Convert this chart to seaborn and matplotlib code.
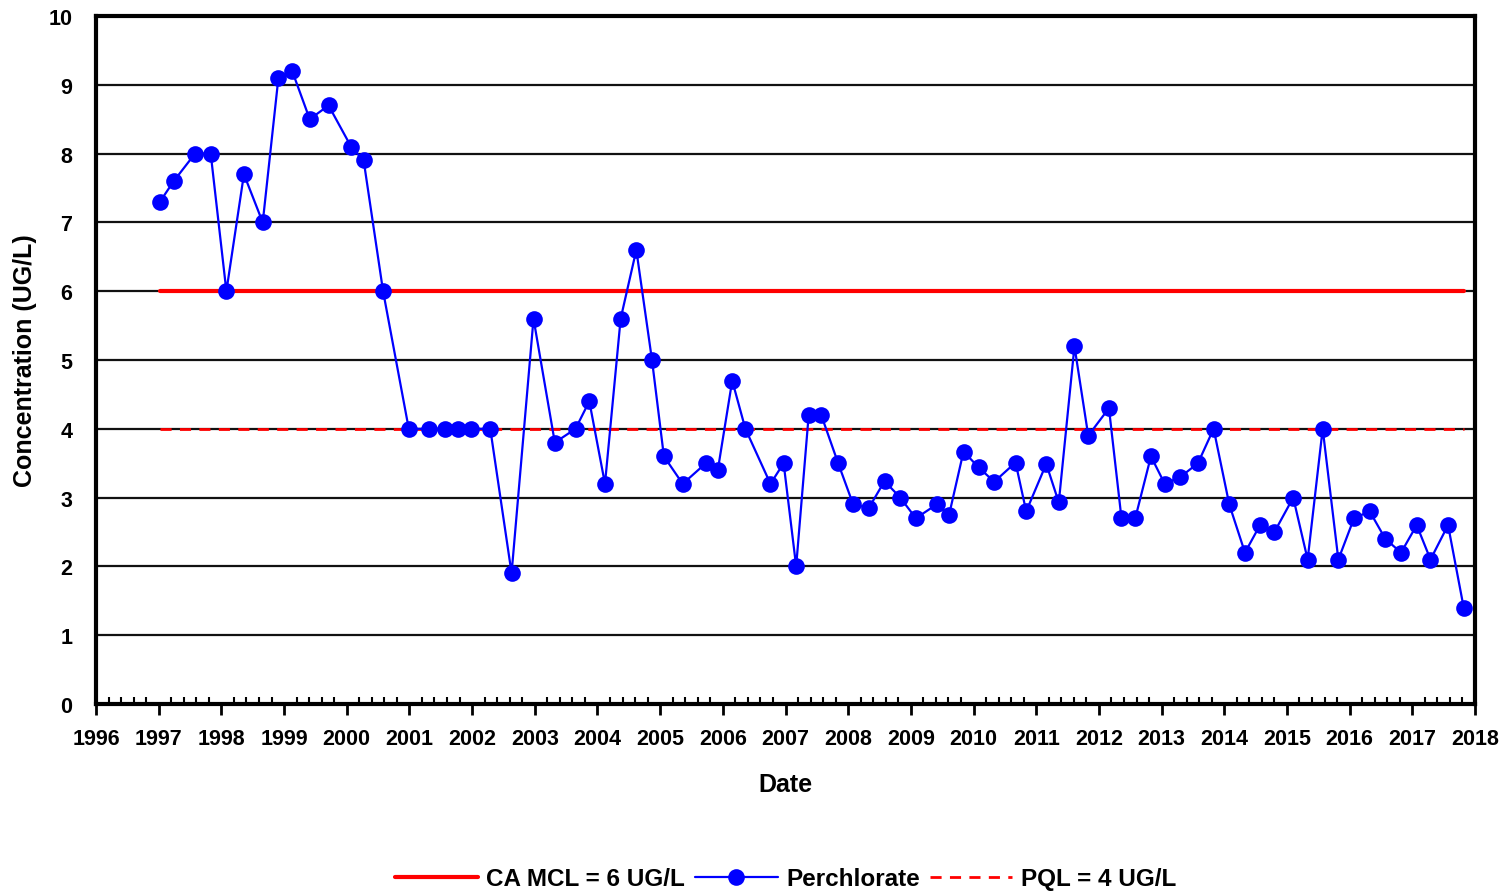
import matplotlib
matplotlib.use("Agg")
import matplotlib.pyplot as plt
import seaborn as sns
import pandas as pd
import numpy as np
from matplotlib.ticker import MultipleLocator, FixedLocator

sample_years = [
    1997.02, 1997.24, 1997.58, 1997.83, 1998.08, 1998.36, 1998.66, 1998.91,
    1999.13, 1999.41, 1999.71, 2000.07, 2000.27, 2000.58, 2000.99, 2001.32,
    2001.57, 2001.77, 2001.99, 2002.29, 2002.63, 2002.98, 2003.32, 2003.65,
    2003.87, 2004.12, 2004.37, 2004.62, 2004.87, 2005.06, 2005.36, 2005.73,
    2005.92, 2006.15, 2006.36, 2006.76, 2006.97, 2007.17, 2007.37, 2007.57,
    2007.84, 2008.08, 2008.33, 2008.58, 2008.83, 2009.08, 2009.41, 2009.61,
    2009.84, 2010.08, 2010.33, 2010.67, 2010.84, 2011.16, 2011.36, 2011.61,
    2011.83, 2012.16, 2012.36, 2012.58, 2012.83, 2013.05, 2013.30, 2013.58,
    2013.83, 2014.08, 2014.33, 2014.57, 2014.80, 2015.10, 2015.33, 2015.57,
    2015.82, 2016.07, 2016.32, 2016.57, 2016.82, 2017.07, 2017.29, 2017.57,
    2017.82,
]
perchlorate = [
    7.3, 7.6, 8.0, 8.0, 6.0, 7.7, 7.0, 9.1,
    9.2, 8.5, 8.7, 8.1, 7.9, 6.0, 4.0, 4.0,
    4.0, 4.0, 4.0, 4.0, 1.9, 5.6, 3.8, 4.0,
    4.4, 3.2, 5.6, 6.6, 5.0, 3.6, 3.2, 3.5,
    3.4, 4.7, 4.0, 3.2, 3.5, 2.0, 4.2, 4.2,
    3.5, 2.9, 2.85, 3.24, 3.0, 2.7, 2.9, 2.75,
    3.67, 3.44, 3.23, 3.51, 2.8, 3.49, 2.93, 5.2,
    3.9, 4.3, 2.7, 2.7, 3.6, 3.2, 3.3, 3.5,
    4.0, 2.9, 2.2, 2.6, 2.5, 3.0, 2.1, 4.0,
    2.1, 2.7, 2.8, 2.4, 2.2, 2.6, 2.1, 2.6,
    1.4,
]
ca_mcl = 6.0
pql = 4.0
year_ticks = list(range(1996, 2019))

sns.set_theme(style="white")
plt.rcParams['font.family'] = ['Liberation Sans', 'DejaVu Sans']
plt.rcParams['font.weight'] = 'bold'
plt.rcParams['text.color'] = 'black'
plt.rcParams['axes.labelcolor'] = 'black'
plt.rcParams['xtick.color'] = 'black'
plt.rcParams['ytick.color'] = 'black'

fig = plt.figure(figsize=(15.05, 8.95), dpi=100)
ax = fig.add_axes([96/1505, 1-705/895, (1475-96)/1505, (705-17)/895])

df = pd.DataFrame({"year": sample_years, "value": perchlorate})
span = [sample_years[0], sample_years[-1]]
mcl_df = pd.DataFrame({"year": span, "value": [ca_mcl, ca_mcl]})
pql_df = pd.DataFrame({"year": span, "value": [pql, pql]})

for yv in range(1, 10):
    ax.axhline(yv, color="#111111", lw=1.6, zorder=1)

sns.lineplot(data=mcl_df, x="year", y="value", ax=ax, color="#ff0000", lw=3,
             label="CA MCL = 6 UG/L", zorder=2)
sns.lineplot(data=df, x="year", y="value", ax=ax, color="#0000ff", lw=1.6,
             marker="o", markersize=12, markeredgewidth=0, markerfacecolor="#0000ff",
             label="Perchlorate", zorder=4)
sns.lineplot(data=pql_df, x="year", y="value", ax=ax, color="#ff0000", lw=2,
             linestyle=(0, (4, 3)), label="PQL = 4 UG/L", zorder=3)

ax.set_xlim(1996, 2018)
ax.set_ylim(0, 10)
ax.xaxis.set_major_locator(FixedLocator(year_ticks))
ax.set_xticklabels([str(y) for y in year_ticks])
ax.xaxis.set_minor_locator(MultipleLocator(0.2))
ax.yaxis.set_major_locator(MultipleLocator(1))

ax.tick_params(axis="x", which="major", direction="out", length=8, width=2,
               labelsize=15.5, pad=9, colors="black", bottom=True)
ax.tick_params(axis="x", which="minor", direction="in", length=5, width=1.5,
               bottom=True, colors="black")
ax.tick_params(axis="y", which="major", length=0, labelsize=15.5, pad=17,
               colors="black")
for lab in ax.get_xticklabels() + ax.get_yticklabels():
    lab.set_fontweight("bold")

for side in ["left", "bottom", "right", "top"]:
    ax.spines[side].set_visible(True)
    ax.spines[side].set_color("black")
    ax.spines[side].set_linewidth(3)

ax.set_xlabel("Date", fontsize=18, fontweight="bold", labelpad=17, color="black")
ax.set_ylabel("Concentration (UG/L)", fontsize=18, fontweight="bold", labelpad=8,
              color="black")
ax.grid(False)

handles, labels = ax.get_legend_handles_labels()
ax.get_legend().remove()
fig.legend(handles, labels, loc="lower center", bbox_to_anchor=(0.522, -0.02),
           ncol=3, frameon=False, prop={"size": 17.5, "weight": "bold"},
           handlelength=3.4, handletextpad=0.35, columnspacing=0.4,
           labelcolor="black")

fig.savefig("out.png", dpi=100)
